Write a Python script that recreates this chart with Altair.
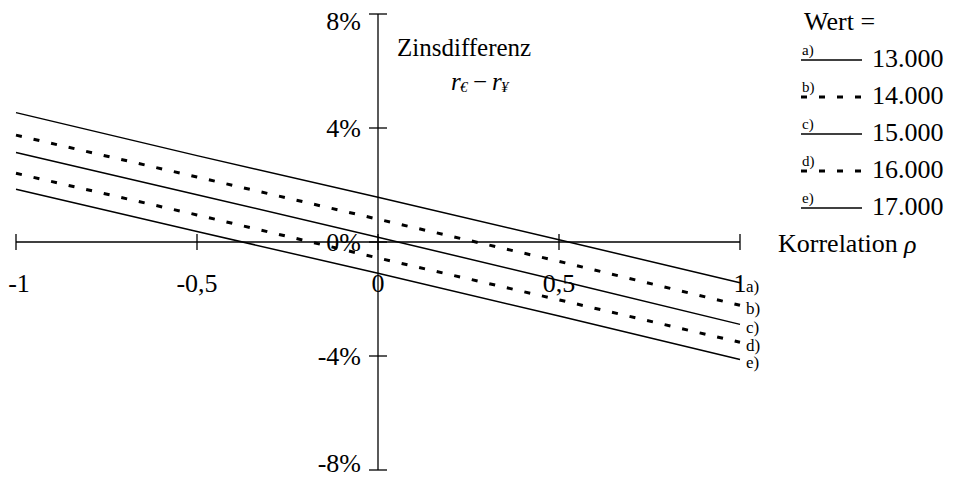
import altair as alt
import pandas as pd

# ---- data ----
rho = [-1.0, -0.5, 0.0, 0.5, 1.0]
series_ids = ["a", "b", "c", "d", "e"]
series_wert = ["13.000", "14.000", "15.000", "16.000", "17.000"]
series_dashed = [False, True, False, True, False]
val_a = [4.54, 3.03, 1.57, 0.08, -1.43]
val_b = [3.75, 2.28, 0.80, -0.68, -2.22]
val_c = [3.14, 1.66, 0.17, -1.35, -2.89]
val_d = [2.41, 0.95, -0.56, -2.03, -3.52]
val_e = [1.85, 0.37, -1.10, -2.60, -4.12]
y_ticks = [8, 4, 0, -4, -8]
y_tick_labels = ["8%", "4%", "0%", "-4%", "-8%"]
x_ticks = [-1, -0.5, 0, 0.5, 1]
x_tick_labels = ["-1", "-0,5", "0", "0,5", "1"]

FONT = "Liberation Serif"
FS = 26

vals = [val_a, val_b, val_c, val_d, val_e]
rows = []
for sid, dashed, v in zip(series_ids, series_dashed, vals):
    for r, y in zip(rho, v):
        rows.append({"rho": r, "val": y, "series": sid, "dashed": dashed})
lines_df = pd.DataFrame(rows)

ends_df = pd.DataFrame({"rho": [rho[-1]] * 5,
                        "val": [v[-1] for v in vals],
                        "lab": [s + ")" for s in series_ids]})

legend_df = pd.DataFrame({"row": list(range(5)),
                          "lab": [s + ")" for s in series_ids],
                          "wert": series_wert,
                          "dashed": series_dashed})

xs = alt.Scale(domain=[-1, 1], nice=False, zero=False)
ys = alt.Scale(domain=[-8, 8], nice=False, zero=False)


def X(f):
    return alt.X(f, type="quantitative", scale=xs, axis=None)


def Y(f):
    return alt.Y(f, type="quantitative", scale=ys, axis=None)


# axes lines
yaxis = alt.Chart(pd.DataFrame({"x": [0], "y1": [-8], "y2": [8]})).mark_rule(
    color="black", strokeWidth=1.3).encode(x=X("x"), y=Y("y1"), y2="y2")
xaxis = alt.Chart(pd.DataFrame({"y": [0], "x1": [-1], "x2": [1]})).mark_rule(
    color="black", strokeWidth=1.3).encode(y=Y("y"), x=X("x1"), x2="x2")

yt_df = pd.DataFrame({"x": [0] * len(y_ticks), "y": y_ticks, "t": y_tick_labels})
xt_df = pd.DataFrame({"y": [0] * len(x_ticks), "x": x_ticks, "t": x_tick_labels})

yticks = alt.Chart(yt_df).mark_tick(orient="horizontal", size=18, thickness=1.3,
                                    color="black", opacity=1).encode(x=X("x"), y=Y("y"))
xticks = alt.Chart(xt_df).mark_tick(orient="vertical", size=16, thickness=1.3,
                                    color="black", opacity=1).encode(x=X("x"), y=Y("y"))


def ylab(flt, dy):
    return alt.Chart(yt_df).transform_filter(flt).mark_text(
        align="right", baseline="middle", dx=-17, dy=dy,
        font=FONT, fontSize=FS, color="black").encode(x=X("x"), y=Y("y"), text="t:N")


def xlab(flt, dx):
    return alt.Chart(xt_df).transform_filter(flt).mark_text(
        align="center", baseline="middle", dx=dx, dy=42,
        font=FONT, fontSize=FS, color="black").encode(x=X("x"), y=Y("y"), text="t:N")


ylabels_mid = ylab("abs(datum.y) < 8", 1)
ylabels_top = ylab("datum.y == 8", 8)
ylabels_bot = ylab("datum.y == -8", -6)
xlabels_first = xlab("datum.x == -1", 3)
xlabels_rest = xlab("datum.x > -1", 0)

xtitle = alt.Chart(pd.DataFrame({"x": [1], "y": [0], "t": ["Korrelation"]})).mark_text(
    align="left", baseline="middle", dx=38, dy=2, font=FONT, fontSize=FS, color="black").encode(
    x=X("x"), y=Y("y"), text="t:N")
xtitle_rho = alt.Chart(pd.DataFrame({"x": [1], "y": [0], "t": ["ρ"]})).mark_text(
    align="left", baseline="middle", dx=164, dy=3, font=FONT, fontSize=FS, fontStyle="italic",
    color="black").encode(x=X("x"), y=Y("y"), text="t:N")

# series lines
solid = alt.Chart(lines_df).transform_filter("!datum.dashed").mark_line(
    color="black", strokeWidth=1.5).encode(x=X("rho"), y=Y("val"), detail="series:N")
dashed = alt.Chart(lines_df).transform_filter("datum.dashed").mark_line(
    color="black", strokeWidth=3, strokeDash=[6, 12]).encode(
    x=X("rho"), y=Y("val"), detail="series:N")

end_labels = alt.Chart(ends_df).mark_text(align="left", baseline="middle", dx=6, dy=4,
                                          font=FONT, fontSize=17, color="black").encode(
    x=X("rho"), y=Y("val"), text="lab:N")


def txt(t, x, y, size=FS, style="normal", align="left"):
    return alt.Chart(pd.DataFrame({"t": [t]})).mark_text(
        align=align, baseline="middle", font=FONT, fontSize=size, fontStyle=style,
        color="black").encode(x=alt.value(x), y=alt.value(y), text="t:N")


# y-axis title block
title1 = txt("Zinsdifferenz", 381, 34, size=25)
t_r1 = txt("r", 435, 68, size=25, style="italic")
t_eu = txt("€", 444, 73, size=15, style="italic")
t_minus = txt("−", 457, 68, size=25)
t_r2 = txt("r", 476, 68, size=25, style="italic")
t_yen = txt("¥", 485, 73, size=15, style="italic")

# legend
leg_title = txt("Wert =", 788, 8)
leg_base = alt.Chart(legend_df).transform_calculate(
    ly="46 + 37 * datum.row", ty="45 + 37 * datum.row", sy="36 + 37 * datum.row")
leg_lab = leg_base.mark_text(align="left", baseline="middle", font=FONT, fontSize=15,
                             color="black").encode(
    x=alt.value(786), y=alt.Y("sy:Q", scale=None), text="lab:N")
leg_val = leg_base.mark_text(align="left", baseline="middle", font=FONT, fontSize=FS,
                             color="black").encode(
    x=alt.value(856), y=alt.Y("ty:Q", scale=None), text="wert:N")
leg_solid = leg_base.transform_filter("!datum.dashed").mark_rule(
    color="black", strokeWidth=1.5).encode(
    x=alt.value(785), x2=alt.value(846), y=alt.Y("ly:Q", scale=None))
leg_dash = leg_base.transform_filter("datum.dashed").mark_rule(
    color="black", strokeWidth=3, strokeDash=[6, 12]).encode(
    x=alt.value(785), x2=alt.value(850), y=alt.Y("ly:Q", scale=None))

chart = alt.layer(
    yaxis, xaxis, yticks, xticks,
    ylabels_mid, ylabels_top, ylabels_bot, xlabels_first, xlabels_rest,
    xtitle, xtitle_rho,
    solid, dashed, end_labels,
    title1, t_r1, t_eu, t_minus, t_r2, t_yen,
    leg_title, leg_lab, leg_val, leg_solid, leg_dash,
).properties(
    width=724, height=456,
    autosize=alt.AutoSizeParams(type="none"),
    padding={"left": 8, "top": 6, "right": 212, "bottom": 7},
    background="white",
).configure_view(stroke=None)

chart.save("out.html", embed_options={"renderer": "svg", "actions": False})
